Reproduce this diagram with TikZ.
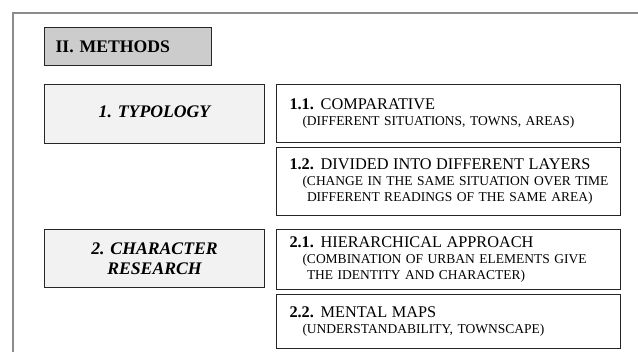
\documentclass[tikz,border=0pt]{standalone}
\usepackage{fontspec}
\setmainfont{Liberation Serif}
\usetikzlibrary{positioning}

\begin{document}
\begin{tikzpicture}[
    x=1pt,y=-1pt,
    box/.style={draw=black!85,line width=1pt,rectangle,inner sep=0pt},
    catbox/.style={box,fill=black!5,minimum width=220pt,align=center,
                   font=\fontsize{17.7}{20}\selectfont\bfseries\itshape},
    subbox/.style={box,minimum width=344pt,text width=332pt,inner xsep=6pt,
                   align=left,font=\fontsize{13.5}{15.5}\selectfont}
  ]
  \useasboundingbox (0,0) rectangle (638,352);
  % page frame
  \draw[black!45,line width=2.5pt] (13,352) -- (13,13) -- (638,13);
  \node[box,fill=black!20,anchor=north west,minimum height=38pt,
        text width=145pt,inner xsep=11pt,align=left,
        font=\fontsize{17.7}{20}\selectfont\bfseries] (meth) at (44,27) {II. METHODS};
  % categories
  \node[catbox,anchor=north west,minimum height=59pt] (typ) at (44,84)
       {\raisebox{4pt}{1. TYPOLOGY}};
  \node[catbox,anchor=north west,minimum height=58pt] (chr) at (44,229)
       {2. CHARACTER\\RESEARCH};
  % sub items
  \newcommand\hd[2]{\hspace*{7pt}{\fontsize{16.3}{16}\selectfont\textbf{#1} #2}}
  \newcommand\subln[2][20]{\hspace*{#1pt}#2}
  \node[subbox,right=11pt of typ.north east,anchor=north west,minimum height=58pt] (c11)
       {\hd{1.1.}{COMPARATIVE}\\[1pt]
        \subln{(DIFFERENT SITUATIONS, TOWNS, AREAS)}};
  \node[subbox,below=4pt of c11,minimum height=68pt] (c12)
       {\hd{1.2.}{DIVIDED INTO DIFFERENT LAYERS}\\[1pt]
        \subln{(CHANGE IN THE SAME SITUATION OVER TIME}\\
        \subln[24.5]{DIFFERENT READINGS OF THE SAME AREA)}};
  \node[subbox,right=11pt of chr.north east,anchor=north west,minimum height=60pt] (c21)
       {\hd{2.1.}{HIERARCHICAL APPROACH}\\[1pt]
        \subln{(COMBINATION OF URBAN ELEMENTS GIVE}\\
        \subln[24.5]{THE IDENTITY AND CHARACTER)}};
  \node[subbox,below=4pt of c21,minimum height=54pt] (c22)
       {\hd{2.2.}{MENTAL MAPS}\\[1pt]
        \subln{(UNDERSTANDABILITY, TOWNSCAPE)}};
\end{tikzpicture}
\end{document}
